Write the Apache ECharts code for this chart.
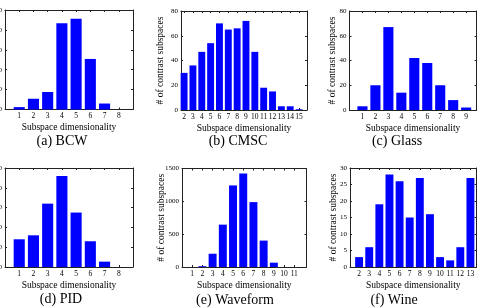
<!DOCTYPE html>
<html>
<head>
<meta charset="utf-8">
<script src="https://cdn.jsdelivr.net/npm/echarts@6/dist/echarts.min.js"></script>
<style>
html,body{margin:0;padding:0;background:#fff;}
#chart{width:484px;height:308px;}
</style>
</head>
<body>
<div id="chart"></div>
<script>
// ---- data ----
var bcwDims = [1, 2, 3, 4, 5, 6, 7, 8];
var bcwValues = [6, 27, 44, 217, 228, 127, 15, 0];
var bcwYTicks = [0, 50, 100, 150, 200, 250];

var cmscDims = [2, 3, 4, 5, 6, 7, 8, 9, 10, 11, 12, 13, 14, 15];
var cmscValues = [30, 36, 47, 54, 70, 65, 66, 72, 47, 18, 15, 3, 3, 0.6];
var cmscYTicks = [0, 20, 40, 60, 80];

var glassDims = [1, 2, 3, 4, 5, 6, 7, 8, 9];
var glassValues = [3, 20, 67, 14, 42, 38, 20, 8, 2];
var glassYTicks = [0, 20, 40, 60, 80];

var pidDims = [1, 2, 3, 4, 5, 6, 7, 8];
var pidValues = [14, 16, 32, 46, 27.5, 13, 2.7, 0];
var pidYTicks = [0, 10, 20, 30, 40, 50];

var waveDims = [1, 2, 3, 4, 5, 6, 7, 8, 9, 10, 11];
var waveValues = [0, 12, 202, 645, 1242, 1425, 988, 402, 66, 0, 0];
var waveYTicks = [0, 500, 1000, 1500];

var wineDims = [2, 3, 4, 5, 6, 7, 8, 9, 10, 11, 12, 13];
var wineValues = [3, 6, 19, 28, 26, 15, 27, 16, 3, 2, 6, 27];
var wineYTicks = [0, 5, 10, 15, 20, 25, 30];

var captions = ['(a) BCW', '(b) CMSC', '(c) Glass', '(d) PID', '(e) Waveform', '(f) Wine'];
var xTitle = 'Subspace dimensionality';
var yTitle = '# of contrast subspaces';

// ---- layout ----
var panels = [
  {dims: bcwDims, vals: bcwValues, yt: bcwYTicks, grid: [5, 10, 128, 99.5], xr: [0, 9], cap: [62, 141], nameGap: 18},
  {dims: cmscDims, vals: cmscValues, yt: cmscYTicks, grid: [181, 11, 126, 99], xr: [1.65, 15.9], cap: [238, 141], nameGap: 16},
  {dims: glassDims, vals: glassValues, yt: glassYTicks, grid: [349.5, 11, 127, 99], xr: [0, 9.8], cap: [397, 141], nameGap: 12},
  {dims: pidDims, vals: pidValues, yt: pidYTicks, grid: [5, 168, 128, 99], xr: [0, 9], cap: [61, 299], nameGap: 18},
  {dims: waveDims, vals: waveValues, yt: waveYTicks, grid: [182, 168.5, 124.5, 98.5], xr: [0, 12.2], cap: [235, 300], nameGap: 16},
  {dims: wineDims, vals: wineValues, yt: wineYTicks, grid: [350, 168, 126.5, 99], xr: [1.1, 13.6], cap: [394, 300], nameGap: 12}
];

var FONT = 'Liberation Serif';
var lineColor = '#222';
var grids = [], xAxes = [], yAxes = [], series = [], graphics = [];
function plain(v) { return String(v); }

panels.forEach(function (p, i) {
  grids.push({left: p.grid[0], top: p.grid[1], width: p.grid[2], height: p.grid[3],
              containLabel: false, outerBoundsMode: 'none'});
  var ymax = p.yt[p.yt.length - 1];
  var yint = p.yt[1] - p.yt[0];
  xAxes.push({
    type: 'value', gridIndex: i, position: 'bottom', min: p.xr[0], max: p.xr[1],
    name: xTitle, nameLocation: 'middle', nameGap: 13, nameMoveOverlap: false,
    nameTextStyle: {fontFamily: FONT, fontSize: 9.5, color: '#000'},
    axisLine: {show: true, onZero: false, lineStyle: {color: lineColor, width: 1}},
    axisTick: {show: true, inside: true, length: 2, customValues: p.dims, lineStyle: {color: lineColor}},
    axisLabel: {show: true, customValues: p.dims, margin: 3, fontFamily: FONT, fontSize: 7.5, color: '#000', formatter: plain},
    splitLine: {show: false}
  });
  xAxes.push({
    type: 'value', gridIndex: i, position: 'top', min: p.xr[0], max: p.xr[1],
    axisLine: {show: true, onZero: false, lineStyle: {color: lineColor, width: 1}},
    axisTick: {show: true, inside: true, length: 2, customValues: p.dims, lineStyle: {color: lineColor}},
    axisLabel: {show: false},
    splitLine: {show: false}
  });
  yAxes.push({
    type: 'value', gridIndex: i, position: 'left', min: 0, max: ymax, interval: yint,
    name: yTitle, nameLocation: 'middle', nameGap: p.nameGap, nameMoveOverlap: false,
    nameTextStyle: {fontFamily: FONT, fontSize: 9.5, color: '#000'},
    axisLine: {show: true, onZero: false, lineStyle: {color: lineColor, width: 1}},
    axisTick: {show: true, inside: true, length: 2, lineStyle: {color: lineColor}},
    axisLabel: {show: true, margin: 3, fontFamily: FONT, fontSize: 7, color: '#000', formatter: plain},
    splitLine: {show: false}
  });
  yAxes.push({
    type: 'value', gridIndex: i, position: 'right', min: 0, max: ymax, interval: yint,
    axisLine: {show: true, onZero: false, lineStyle: {color: lineColor, width: 1}},
    axisTick: {show: true, inside: true, length: 2, lineStyle: {color: lineColor}},
    axisLabel: {show: false},
    splitLine: {show: false}
  });
  series.push({
    type: 'bar', xAxisIndex: 2 * i, yAxisIndex: 2 * i, barWidth: '78%',
    itemStyle: {color: '#0000ff'},
    data: p.dims.map(function (d, k) { return [d, p.vals[k]]; }),
    silent: true, animation: false
  });
  graphics.push({
    type: 'text', x: p.cap[0], y: p.cap[1],
    style: {text: captions[i], fontFamily: FONT, fontSize: 14, fill: '#000', textAlign: 'center', textVerticalAlign: 'middle'}
  });
});

var chart = echarts.init(document.getElementById('chart'), null, {renderer: 'canvas'});
chart.setOption({
  animation: false,
  backgroundColor: '#fff',
  grid: grids,
  xAxis: xAxes,
  yAxis: yAxes,
  series: series,
  graphic: graphics
});
</script>
</body>
</html>
